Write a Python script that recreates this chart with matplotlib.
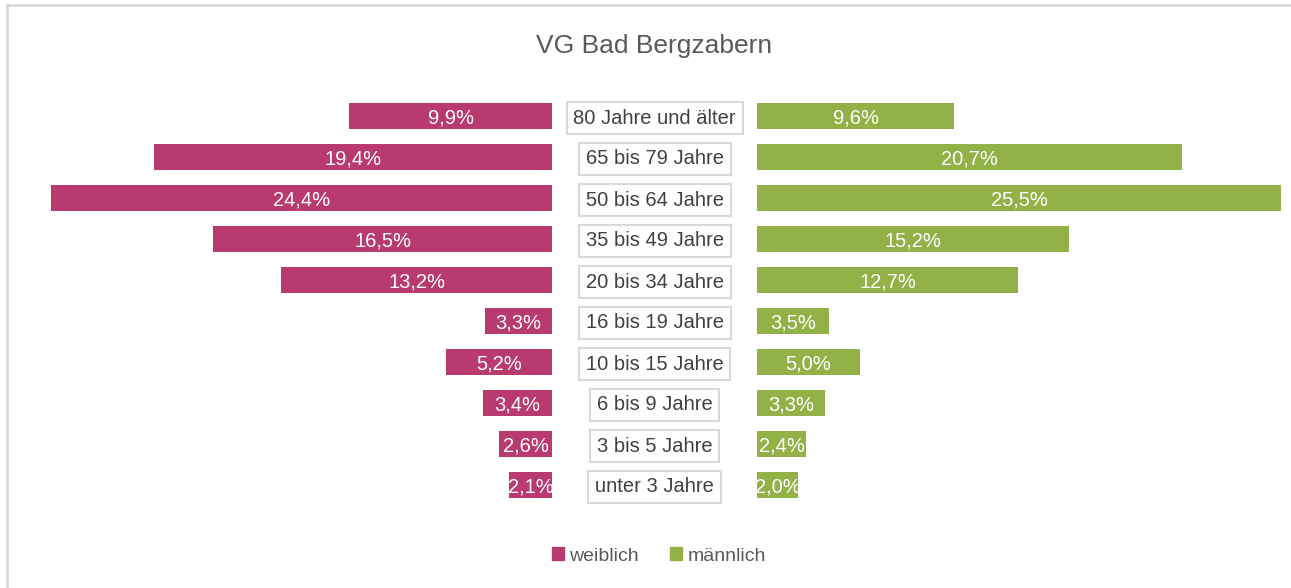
import numpy as np
import matplotlib.pyplot as plt
from matplotlib.patches import Patch
from matplotlib.lines import Line2D

plt.rcParams['font.family'] = ['Liberation Sans Narrow', 'Liberation Sans', 'DejaVu Sans']

# Altersgruppen (von unten nach oben)
age_groups = ["unter 3 Jahre", "3 bis 5 Jahre", "6 bis 9 Jahre", "10 bis 15 Jahre",
              "16 bis 19 Jahre", "20 bis 34 Jahre", "35 bis 49 Jahre",
              "50 bis 64 Jahre", "65 bis 79 Jahre", "80 Jahre und älter"]
weiblich = [2.1, 2.6, 3.4, 5.2, 3.3, 13.2, 16.5, 24.4, 19.4, 9.9]
maennlich = [2.0, 2.4, 3.3, 5.0, 3.5, 12.7, 15.2, 25.5, 20.7, 9.6]

PINK = "#B93A6E"
GREEN = "#92B248"
TEXT = "#404040"
GAP = 4.98  # halbe Breite der Mittelspalte in %-Einheiten

W, H = 1291, 588
fig = plt.figure(figsize=(W / 100, H / 100), dpi=100)
x0, x1 = -(24.4 + GAP), 25.5 + GAP
px_per_pct = 20.55
ax = fig.add_axes([51 / W, 1 - 505.5 / H, (x1 - x0) * px_per_pct / W, 410 / H])

y = np.arange(len(age_groups))
w = np.array(weiblich)
m = np.array(maennlich)

ax.barh(y, -w, left=-GAP, height=0.64, color=PINK)
ax.barh(y, m, left=GAP, height=0.64, color=GREEN)

for yi, wv, mv, lbl in zip(y, w, m, age_groups):
    ax.text(-GAP - wv / 2, yi, f"{wv:.1f}%".replace(".", ","), color="white",
            ha="center", va="center_baseline", fontsize=14.5)
    ax.text(GAP + mv / 2, yi, f"{mv:.1f}%".replace(".", ","), color="white",
            ha="center", va="center_baseline", fontsize=14.5)
    ax.text(0, yi, lbl, color=TEXT, ha="center", va="center_baseline", fontsize=14.5,
            bbox=dict(boxstyle="square,pad=0.34", fc="white", ec="#d9d9d9", lw=1.5))

ax.set_xlim(x0, x1)
ax.set_ylim(-0.5, 9.5)
ax.axis("off")

fig.text(654 / W, 1 - 46 / H, "VG Bad Bergzabern", ha="center", va="center",
         fontsize=19, color="#595959")

handles = [Patch(color=PINK, label="weiblich"), Patch(color=GREEN, label="männlich")]
fig.legend(handles=handles, loc="center", bbox_to_anchor=(659 / W, 1 - 556 / H),
           ncol=2, frameon=False, fontsize=14, handlelength=0.6, handleheight=0.6,
           handletextpad=0.3, columnspacing=1.6, labelcolor="#595959")

# Rahmen links und oben
fig.add_artist(Line2D([7 / W, 7 / W], [0, 1 - 5 / H], color="#d9d9d9", lw=2,
                      transform=fig.transFigure))
fig.add_artist(Line2D([7 / W, 1], [1 - 5 / H, 1 - 5 / H], color="#d9d9d9", lw=2,
                      transform=fig.transFigure))

fig.savefig("out.png", dpi=100)
